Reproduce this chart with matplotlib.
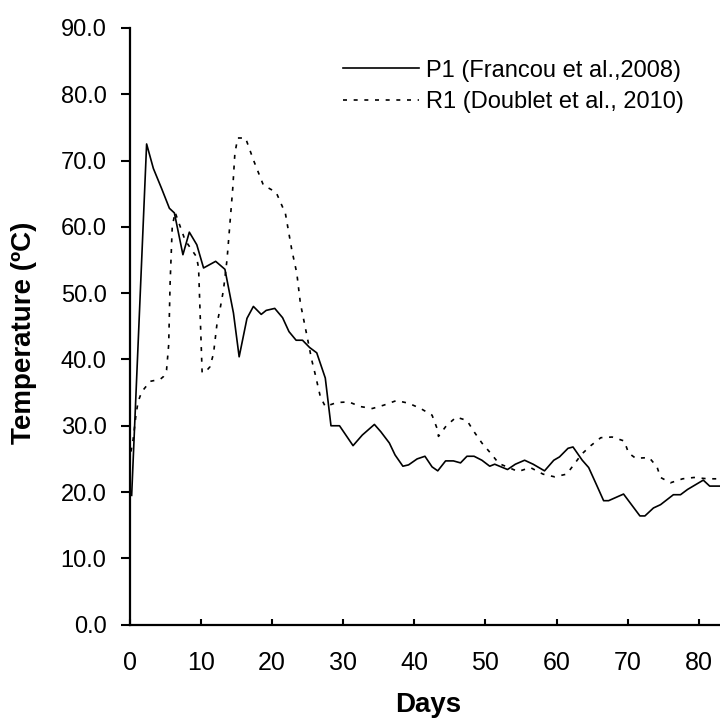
import matplotlib
matplotlib.use("Agg")
import matplotlib.pyplot as plt

plt.rcParams['font.family'] = ['Liberation Sans', 'DejaVu Sans']

# P1 (Francou et al., 2008)
p1_days = [0.3, 2.4, 3.35, 4.5, 5.6, 6.3, 7.5, 8.4, 9.45, 10.4, 12.1, 13.4, 14.6, 15.4,
           16.5, 17.4, 18.5, 19.2, 20.4, 21.5, 22.4, 23.4, 24.3, 25.3, 26.3, 27.5, 28.3,
           29.5, 31.4, 32.7, 34.4, 35.3, 36.5, 37.3, 38.4, 39.2, 40.4, 41.5, 42.5, 43.3,
           44.4, 45.5, 46.5, 47.4, 48.4, 49.5, 50.6, 51.3, 52.2, 53.1, 54.2, 55.5, 56.7,
           58.3, 59.6, 60.4, 61.6, 62.3, 63.6, 64.5, 65.6, 66.6, 67.3, 69.4, 71.7, 72.4,
           73.6, 74.6, 76.4, 77.4, 78.4, 79.5, 80.6, 81.5, 83.0]
p1_temp = [19.5, 72.5, 68.8, 65.8, 62.8, 62.1, 55.8, 59.2, 57.3, 53.8, 54.8, 53.6, 47.0, 40.4,
           46.2, 48.0, 46.8, 47.4, 47.7, 46.3, 44.2, 42.9, 42.9, 41.8, 41.0, 37.2, 30.0,
           30.0, 27.0, 28.6, 30.2, 29.1, 27.4, 25.6, 23.9, 24.1, 25.0, 25.4, 23.8, 23.2,
           24.7, 24.7, 24.4, 25.4, 25.4, 24.8, 23.9, 24.2, 23.8, 23.4, 24.2, 24.8, 24.2,
           23.2, 24.8, 25.3, 26.6, 26.8, 24.8, 23.7, 21.1, 18.7, 18.7, 19.7, 16.4, 16.4,
           17.6, 18.1, 19.6, 19.6, 20.4, 21.1, 21.8, 20.9, 20.9]

# R1 (Doublet et al., 2010)
r1_days = [0.2, 0.5, 0.9, 1.2, 1.7, 2.9, 4.3, 4.75, 5.2, 5.5, 5.7, 6.0, 6.4, 7.8, 9.4, 9.7,
           10.2, 10.9, 11.3, 11.8, 12.3, 12.7, 13.2, 13.7, 14.5, 14.8, 15.2, 16.3, 17.4,
           18.8, 20.6, 21.9, 22.8, 23.5, 24.0, 24.9, 25.6, 26.1, 26.8, 27.5, 29.1, 30.8,
           32.4, 34.1, 35.7, 37.5, 39.2, 40.9, 42.5, 43.2, 43.4, 44.5, 45.9, 47.4, 48.4,
           49.5, 50.7, 51.9, 54.6, 56.3, 58.1, 59.7, 61.4, 62.4, 63.5, 64.8, 66.2, 67.8,
           69.5, 70.1, 71.1, 73.0, 74.1, 74.6, 76.0, 77.7, 79.3, 81.2, 83.0]
r1_temp = [26.1, 27.9, 31.6, 33.6, 35.1, 36.7, 37.0, 37.4, 38.4, 42.2, 51.5, 60.0, 62.2, 58.0,
           55.5, 53.8, 38.0, 38.4, 38.9, 40.9, 45.5, 47.5, 50.5, 55.1, 65.8, 71.1, 73.4,
           73.4, 70.1, 66.3, 65.2, 62.0, 56.5, 53.0, 48.5, 43.7, 39.9, 37.7, 34.4, 32.9,
           33.5, 33.6, 32.9, 32.6, 33.1, 33.8, 33.4, 32.6, 31.6, 29.6, 28.4, 30.0, 31.3,
           30.8, 29.1, 27.4, 25.9, 24.3, 23.1, 23.7, 22.7, 22.3, 22.7, 24.1, 25.7, 27.0,
           28.2, 28.3, 27.7, 25.9, 25.1, 25.2, 23.8, 22.2, 21.4, 22.0, 22.2, 22.0, 22.0]

x_ticks = [0, 10, 20, 30, 40, 50, 60, 70, 80]
y_ticks = [0, 10, 20, 30, 40, 50, 60, 70, 80, 90]

fig = plt.figure(figsize=(7.2, 7.2), dpi=100)
ax = fig.add_axes([0.1799, 0.1324, 0.8201, 0.8288])

ax.plot(p1_days, p1_temp, color='black', lw=1.2, label='P1 (Francou et al.,2008)')
ax.plot(r1_days, r1_temp, color='black', lw=1.2, linestyle=(0, (2.4, 4.0)),
        label='R1 (Doublet et al., 2010)')

ax.set_xlim(0, 82.95)
ax.set_ylim(0, 90)
ax.set_xticks(x_ticks)
ax.set_yticks(y_ticks)
ax.set_yticklabels(['%.1f' % v for v in y_ticks])

for s in ['top', 'right']:
    ax.spines[s].set_visible(False)
for s in ['left', 'bottom']:
    ax.spines[s].set_linewidth(1.6)

ax.tick_params(axis='y', direction='out', length=6.5, width=1.5, pad=10, labelsize=17)
ax.tick_params(axis='x', direction='in', length=4.3, width=1.5, pad=19, labelsize=18)

ax.set_xlabel('Days', fontsize=20, fontweight='bold')
ax.set_ylabel('Temperature (ºC)', fontsize=20, fontweight='bold')
ax.xaxis.set_label_coords(0.505, -0.112)
ax.yaxis.set_label_coords(-0.156, 0.489)

ax.legend(loc='upper left', bbox_to_anchor=(0.477, 0.917), bbox_transform=fig.transFigure,
          frameon=False, fontsize=17, handlelength=3.2, handletextpad=0.3,
          borderpad=0, borderaxespad=0, labelspacing=0.4)

fig.savefig('out.png', dpi=100)
